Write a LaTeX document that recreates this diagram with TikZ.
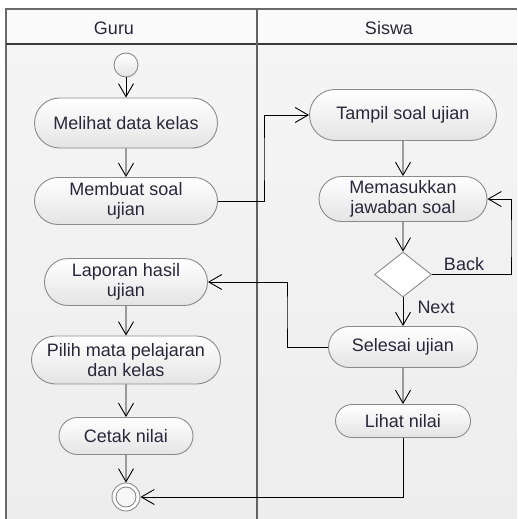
\documentclass[tikz,border=0pt]{standalone}
\usepackage{fontspec}
\setmainfont{Liberation Sans}
\usetikzlibrary{shapes.misc,shapes.geometric,arrows.meta}
\definecolor{nodeborder}{HTML}{8A8A8A}
\definecolor{nodebottom}{HTML}{E4E4E4}
\definecolor{txt}{HTML}{28283A}
\definecolor{framec}{HTML}{6A6A6A}
\definecolor{headc}{HTML}{3A3A3A}
\begin{document}
\begin{tikzpicture}[x=1pt,y=-1pt,
  act/.style={rounded rectangle, draw=nodeborder, line width=0.9pt, top color=white, bottom color=nodebottom, inner sep=0pt, font=\fontsize{18}{19.5}\selectfont, text=txt, align=center},
  lbl/.style={font=\fontsize{18}{19.5}\selectfont, text=txt, inner sep=0pt},
  flow/.style={draw=black, line width=0.9pt, -{Straight Barb[length=13pt,width=15pt,line width=0.9pt]}}]
\useasboundingbox (0,0) rectangle (517,519);
\fill[white] (0,0) rectangle (517,519);
\fill[white!98!black] (6,9) rectangle (517,44);
\shade[top color=white!96!black, bottom color=white!93!black] (6,44) rectangle (517,519);
\draw[framec, line width=1.6pt] (6,519) -- (6,9) -- (517,9);
\draw[headc, line width=1.2pt] (6,44) -- (517,44);
\draw[headc!80!white, line width=1.8pt] (257,9) -- (257,519);
\node[lbl] (guru) at (114,28) {Guru};
\node[lbl] (siswa) at (389,28) {Siswa};
% Guru lane
\node[circle, draw=nodeborder, line width=0.9pt, top color=white, bottom color=nodebottom, minimum size=24pt, inner sep=0pt] (start) at (126,65) {};
\node[act, minimum width=183pt, minimum height=50pt] (a1) at (126,123) {Melihat data kelas};
\node[act, minimum width=183pt, minimum height=47pt] (a2) at (126,201) {Membuat soal\\ujian};
\node[act, minimum width=163pt, minimum height=47pt] (a3) at (126,282) {Laporan hasil\\ujian};
\node[act, minimum width=189pt, minimum height=48pt] (a4) at (126,360) {Pilih mata pelajaran\\dan kelas};
\node[act, minimum width=134pt, minimum height=37pt] (a5) at (126,436) {Cetak nilai};
\node[circle, draw=nodeborder, line width=0.9pt, fill=white, minimum size=28pt, inner sep=0pt] (end) at (126,497) {};
\draw[nodeborder, line width=0.9pt, fill=white!97!black] (end.center) circle (10pt);
% Siswa lane
\node[act, minimum width=187pt, minimum height=51pt] (b1) at (403,115) {Tampil soal ujian};
\node[act, minimum width=168pt, minimum height=45pt] (b2) at (403,199) {Memasukkan\\jawaban soal};
\node[diamond, draw=nodeborder, line width=0.9pt, fill=white, minimum width=57pt, minimum height=45pt, inner sep=0pt] (dec) at (403,274.5) {};
\node[act, minimum width=149pt, minimum height=41pt] (b3) at (403,347) {Selesai ujian};
\node[act, minimum width=135pt, minimum height=33pt] (b4) at (403,421) {Lihat nilai};
\node[lbl] (back) at (464,264) {Back};
\node[lbl] (next) at (436,307) {Next};
% junctions
\coordinate (j1) at (264,160);
\coordinate (j2) at (511,240);
\coordinate (j3) at (287,310);
% connectors
\draw[flow] (start) -- (a1);
\draw[flow] (a1) -- (a2);
\draw[flow] (a2.east) -| (j1) |- (b1.west);
\draw[flow] (b1) -- (b2);
\draw[flow] (b2) -- (dec.north);
\draw[flow] (dec.east) -| (j2) |- (b2.east);
\draw[flow] (dec.south) -- (b3.north);
\draw[flow] (b3.west) -| (j3) |- (a3.east);
\draw[flow] (b3) -- (b4);
\draw[flow] (b4.south) |- (end.east);
\draw[flow] (a3) -- (a4);
\draw[flow] (a4) -- (a5);
\draw[flow] (a5) -- (end);
\end{tikzpicture}
\end{document}
